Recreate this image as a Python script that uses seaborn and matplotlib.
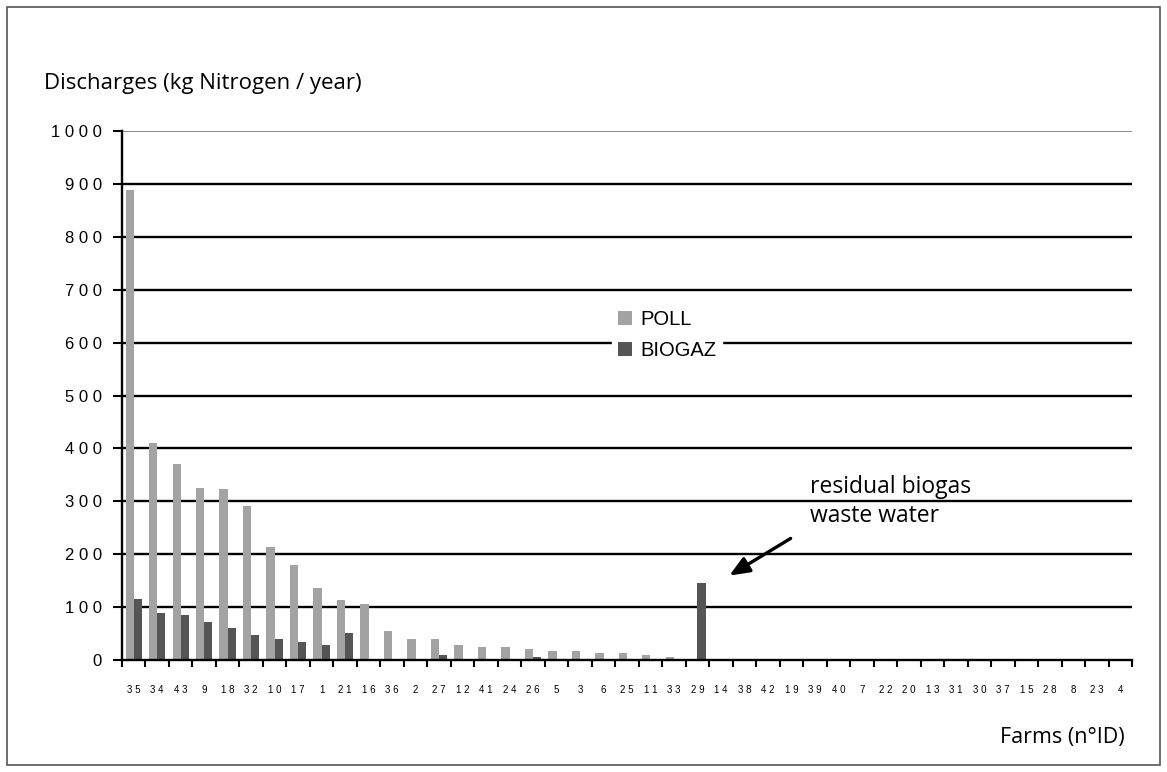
import numpy as np
import pandas as pd
import matplotlib
matplotlib.use("Agg")
import matplotlib.pyplot as plt
import seaborn as sns
from matplotlib.patches import Rectangle

sns.set_theme(style="white")
plt.rcParams["font.family"] = ["Liberation Sans", "DejaVu Sans"]

# ── Data ────────────────────────────────────────────────────────────────────
farms = ["35", "34", "43", "9", "18", "32", "10", "17", "1", "21", "16", "36",
         "2", "27", "12", "41", "24", "26", "5", "3", "6", "25", "11", "33",
         "29", "14", "38", "42", "19", "39", "40", "7", "22", "20", "13", "31",
         "30", "37", "15", "28", "8", "23", "4"]
poll = [888, 411, 370, 326, 323, 292, 213, 179, 136, 113, 106, 55,
        40, 39, 29, 25, 25, 21, 17, 17, 14, 14, 9, 5,
        0, 0, 0, 0, 0, 0, 0, 0, 0, 0, 0, 0,
        0, 0, 0, 0, 0, 0, 0]
biogaz = [115, 89, 85, 72, 60, 47, 40, 34, 28, 51, 0, 0,
          0, 10, 0, 0, 0, 5, 0, 0, 0, 0, 0, 0,
          146, 0, 0, 0, 0, 0, 0, 0, 0, 0, 0, 0,
          0, 0, 0, 0, 0, 0, 0]
y_ticks = [0, 100, 200, 300, 400, 500, 600, 700, 800, 900, 1000]

df = pd.DataFrame({
    "farm": farms * 2,
    "value": poll + biogaz,
    "series": ["POLL"] * len(farms) + ["BIOGAZ"] * len(farms),
})

HUMAN = ["Open Sans", "DejaVu Sans"]

# ── Figure ──────────────────────────────────────────────────────────────────
fig = plt.figure(figsize=(11.67, 7.72), dpi=100)
fig.patch.set_facecolor("white")
fig.patches.append(Rectangle((7 / 1167, 7 / 772), 1153 / 1167, 758 / 772,
                             transform=fig.transFigure, fill=False,
                             edgecolor="#555555", linewidth=1.2))

ax = fig.add_axes([122 / 1167, 112 / 772, 1010 / 1167, 529 / 772])

# gridlines behind bars
for v in y_ticks[1:-1]:
    ax.axhline(v, color="black", linewidth=1.7, zorder=0)
ax.axhline(1000, color="#777777", linewidth=1.2, zorder=0)

sns.barplot(data=df, x="farm", y="value", hue="series", order=farms,
            hue_order=["POLL", "BIOGAZ"],
            palette={"POLL": "#a3a3a3", "BIOGAZ": "#555555"},
            width=0.7, saturation=1, errorbar=None, linewidth=0,
            ax=ax, zorder=2)

ax.set_xlim(-0.5, len(farms) - 0.5)
ax.set_ylim(0, 1000)
for s in ["top", "right"]:
    ax.spines[s].set_visible(False)
for s in ["left", "bottom"]:
    ax.spines[s].set_color("black")
    ax.spines[s].set_linewidth(1.7)
    ax.spines[s].set_zorder(3)

# y ticks with spaced digits
ax.set_yticks(y_ticks)
ax.set_yticklabels([" ".join(str(v)) for v in y_ticks], fontsize=12)
ax.tick_params(axis="y", direction="out", length=6.5, width=1.5,
               color="black", labelcolor="black", left=True, pad=8)

# x labels at centers, tick marks at boundaries
ax.set_xticks(np.arange(len(farms)))
ax.set_xticklabels([" ".join(f) for f in farms], fontsize=7)
ax.tick_params(axis="x", which="major", length=0, pad=18,
               labelcolor="black")
ax.set_xticks(np.arange(len(farms) + 1) - 0.5, minor=True)
ax.tick_params(axis="x", which="minor", direction="out", length=5,
               width=1.5, color="black", bottom=True)
ax.set_xlabel("")
ax.set_ylabel("")

leg = ax.legend(loc="upper left", bbox_to_anchor=(0.475, 0.692),
                frameon=True, fancybox=False, framealpha=1,
                edgecolor="white", fontsize=14.5, handlelength=0.7,
                handleheight=0.7, handletextpad=0.4, labelspacing=0.6,
                borderpad=0.3)
for t in leg.get_texts():
    t.set_color("black")
leg.set_zorder(4)

# annotation
ax.annotate("", xy=(727 / 1167, (772 - 577) / 772),
            xytext=(793 / 1167, (772 - 537) / 772),
            xycoords="figure fraction", textcoords="figure fraction",
            arrowprops=dict(arrowstyle="-|>,head_length=0.6,head_width=0.25",
                            color="black", lw=2.4, mutation_scale=20))
fig.text(810 / 1167, (772 - 487) / 772, "residual biogas",
         fontsize=16.5, family=HUMAN, va="center", color="black")
fig.text(810 / 1167, (772 - 516) / 772, "waste water",
         fontsize=16.5, family=HUMAN, va="center", color="black")

fig.text(44 / 1167, (772 - 84) / 772, "Discharges (kg Nitrogen / year)",
         fontsize=16, family=HUMAN, va="center", color="black")
fig.text(1125 / 1167, (772 - 738) / 772, "Farms (n°ID)",
         fontsize=15.5, family=HUMAN, va="center", ha="right", color="black")

fig.savefig("out.png", dpi=100)
